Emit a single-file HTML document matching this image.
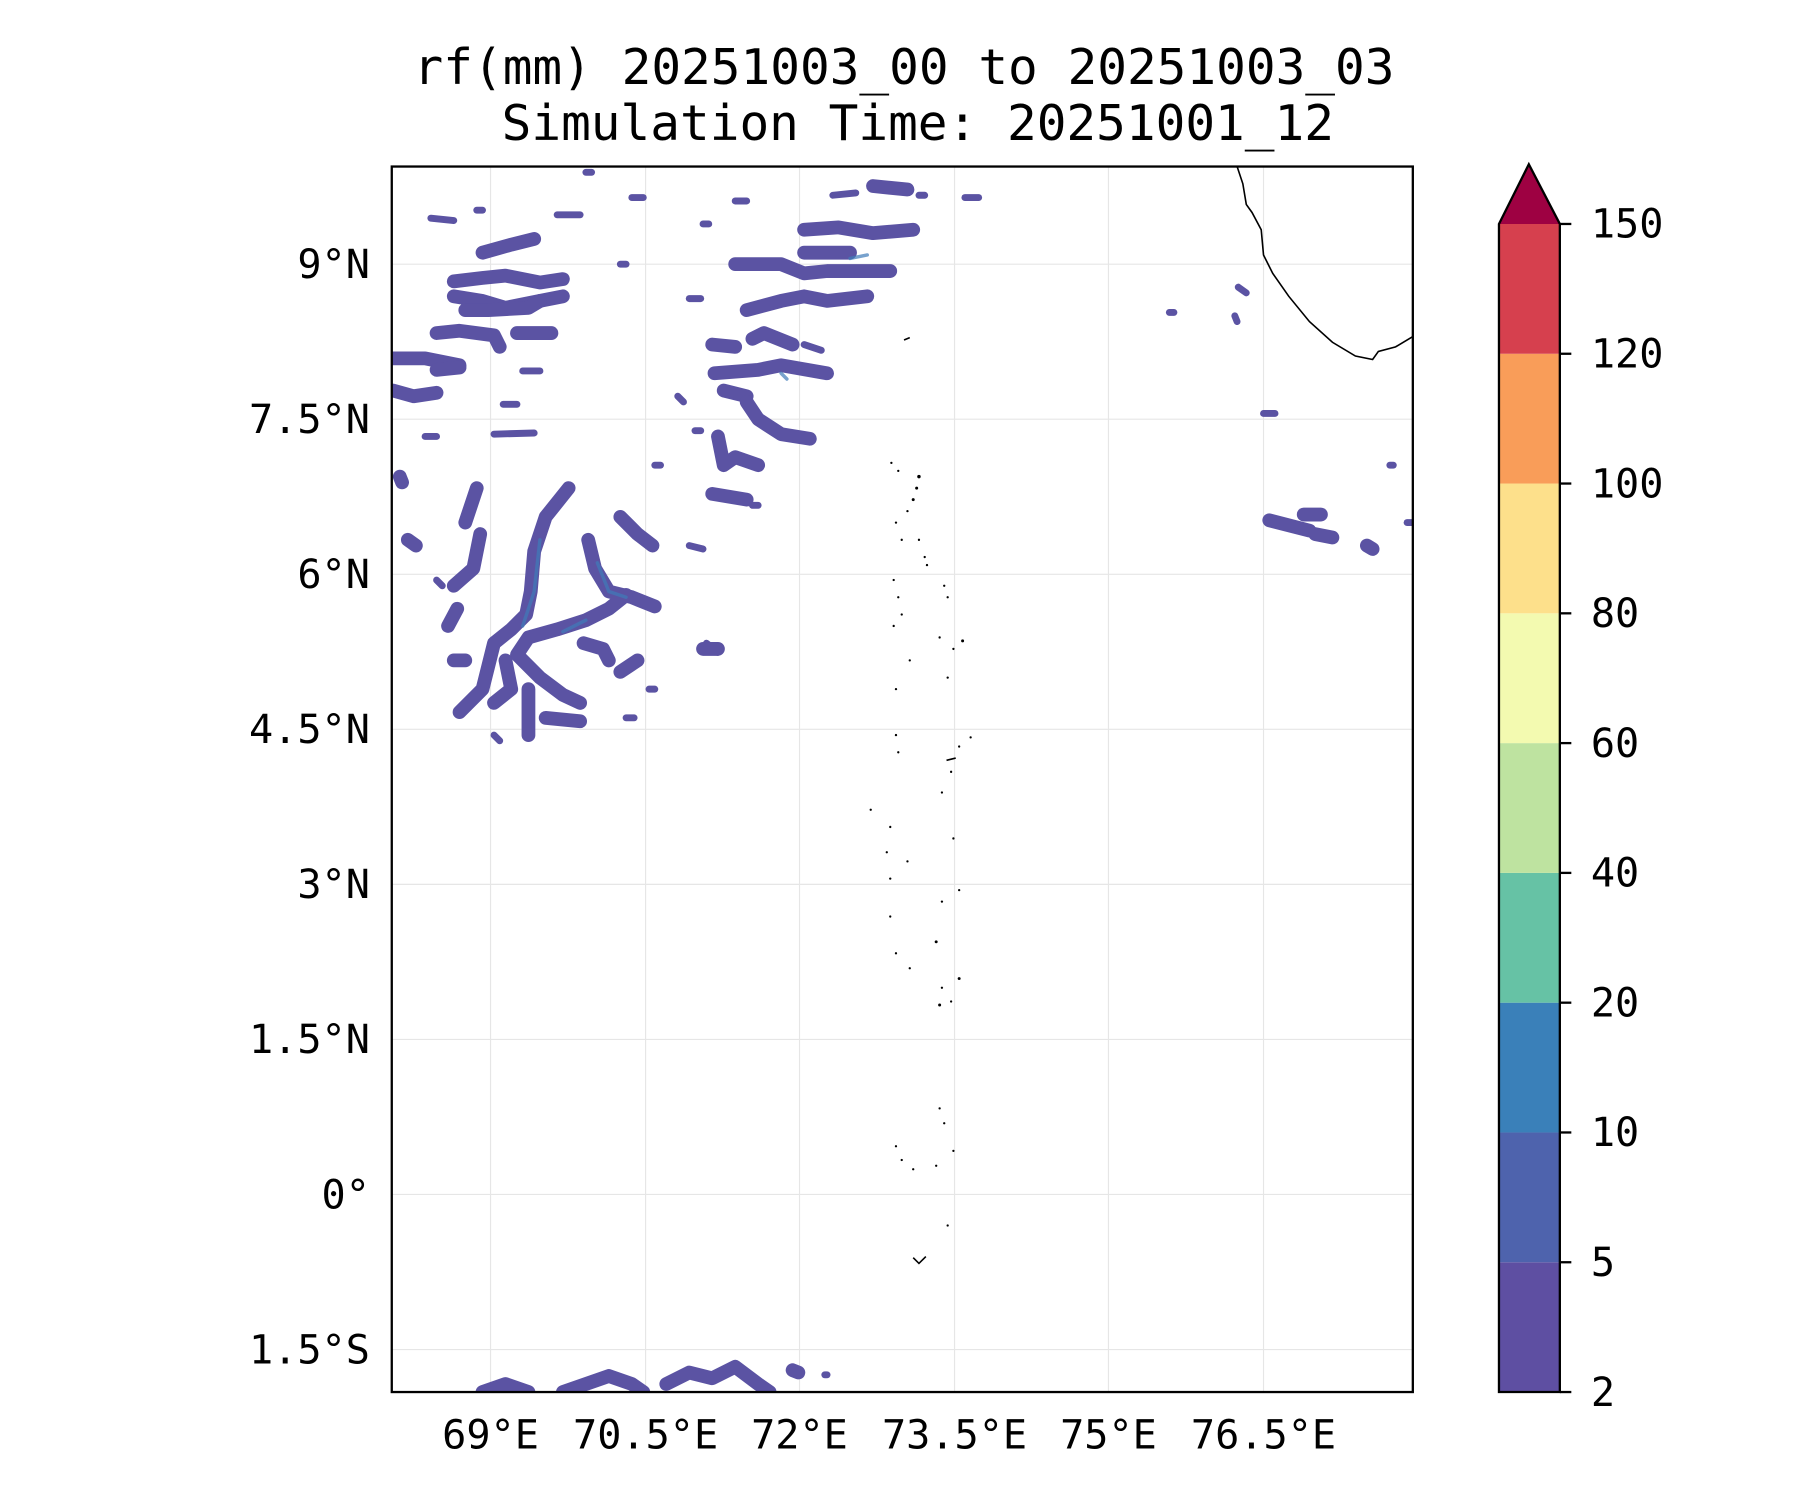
<!DOCTYPE html>
<html><head><style>
html,body{margin:0;padding:0;background:#fff;}
svg text{font-family:"DejaVu Sans Mono","Liberation Mono",monospace;fill:#000;}
</style></head><body>
<svg width="1800" height="1500" viewBox="0 0 1567 1306" xmlns="http://www.w3.org/2000/svg">
<rect width="1567" height="1306" fill="#fff"/>
<text x="787" y="73" font-size="43" text-anchor="middle">rf(mm) 20251003_00 to 20251003_03</text>
<text x="799" y="122" font-size="43" text-anchor="middle">Simulation Time: 20251001_12</text>
<g stroke="#e6e6e6" stroke-width="1">
<line x1="427" y1="145" x2="427" y2="1212"/><line x1="562" y1="145" x2="562" y2="1212"/>
<line x1="696" y1="145" x2="696" y2="1212"/><line x1="831" y1="145" x2="831" y2="1212"/>
<line x1="965" y1="145" x2="965" y2="1212"/><line x1="1100" y1="145" x2="1100" y2="1212"/>
<line x1="341" y1="230" x2="1230" y2="230"/><line x1="341" y1="365" x2="1230" y2="365"/>
<line x1="341" y1="500" x2="1230" y2="500"/><line x1="341" y1="635" x2="1230" y2="635"/>
<line x1="341" y1="770" x2="1230" y2="770"/><line x1="341" y1="905" x2="1230" y2="905"/>
<line x1="341" y1="1040" x2="1230" y2="1040"/><line x1="341" y1="1175" x2="1230" y2="1175"/>
</g>
<clipPath id="c"><rect x="341" y="145" width="889" height="1067"/></clipPath>
<g clip-path="url(#c)" fill="none" stroke="#5b53a3" stroke-linecap="round" stroke-linejoin="round">
<g stroke-width="12">
<polyline points="420,220 445,213 465,208"/>
<polyline points="395,245 420,242 440,240 470,246 490,243"/>
<polyline points="395,258 420,262 440,268 470,262 490,258"/>
<polyline points="405,270 425,270 460,268 470,262"/>
<polyline points="380,290 400,288 430,292 435,302"/>
<polyline points="342,312 370,312 400,318"/>
<polyline points="342,340 360,345 380,342"/>
<polyline points="450,290 480,290"/>
<polyline points="380,322 400,320"/>
<polyline points="640,230 680,230 700,238 720,236 775,236"/>
<polyline points="700,220 740,220"/>
<polyline points="650,270 680,262 700,258 720,262 755,258"/>
<polyline points="620,300 640,302"/>
<polyline points="622,325 660,322 680,318 720,325"/>
<polyline points="630,340 650,345"/>
<polyline points="650,350 660,365 680,378 705,382"/>
<polyline points="625,380 630,405 640,398 660,405"/>
<polyline points="700,200 730,198 760,203 795,200"/>
<polyline points="760,162 790,165"/>
<polyline points="655,295 665,290 690,300"/>
<polyline points="620,430 650,435"/>
<polyline points="415,425 405,455"/>
<polyline points="418,465 412,495 395,510"/>
<polyline points="398,530 390,545"/>
<polyline points="495,425 475,450 465,480 462,515 458,535 445,548 430,560 425,580 420,600 400,620"/>
<polyline points="512,470 518,495 530,515 550,520 570,528"/>
<polyline points="545,518 530,530 510,540 485,548 460,555 450,570 470,590 490,605 505,612"/>
<polyline points="440,575 445,600 430,612"/>
<polyline points="460,600 460,640"/>
<polyline points="475,625 505,628"/>
<polyline points="508,560 525,565 530,575"/>
<polyline points="540,450 555,465 568,475"/>
<polyline points="395,575 405,575"/>
<polyline points="612,565 625,565"/>
<polyline points="540,585 555,575"/>
<polyline points="348,415 350,420"/>
<polyline points="355,470 362,475"/>
<polyline points="1105,453 1140,462"/><polyline points="1145,465 1160,468"/>
<polyline points="1135,448 1150,448"/>
<polyline points="1190,475 1195,478"/>
<polyline points="420,1212 440,1205 460,1212"/>
<polyline points="490,1212 510,1205 530,1198 550,1205 560,1212"/>
<polyline points="580,1205 600,1195 620,1200 640,1190 660,1205 670,1212"/>
<polyline points="690,1193 695,1195"/>
</g>
<g stroke-width="6">
<polyline points="375,190 395,192"/><polyline points="485,187 505,187"/><polyline points="550,172 560,172"/>
<polyline points="510,150 515,150"/><polyline points="415,183 420,183"/><polyline points="455,323 470,323"/>
<polyline points="438,352 450,352"/><polyline points="370,380 380,380"/><polyline points="430,378 465,377"/>
<polyline points="612,195 617,195"/><polyline points="540,230 545,230"/><polyline points="600,260 610,260"/>
<polyline points="640,175 650,175"/><polyline points="725,170 745,168"/><polyline points="800,170 805,170"/>
<polyline points="840,172 852,172"/><polyline points="700,300 715,305"/><polyline points="590,345 595,350"/>
<polyline points="600,475 612,478"/><polyline points="570,405 575,405"/><polyline points="655,440 660,440"/>
<polyline points="615,560 625,568"/><polyline points="545,625 552,625"/><polyline points="565,600 570,600"/>
<polyline points="430,640 435,645"/><polyline points="380,505 385,510"/><polyline points="1078,250 1085,255"/>
<polyline points="1100,360 1110,360"/><polyline points="1018,272 1022,272"/><polyline points="1225,455 1230,455"/>
<polyline points="1075,275 1077,280"/><polyline points="1210,405 1213,405"/><polyline points="718,1197 720,1197"/>
<polyline points="605,375 610,375"/>
</g>
<g stroke="#3f7bb9" stroke-width="3" opacity="0.7">
<polyline points="470,470 465,515 455,545"/><polyline points="520,490 530,515 545,520"/><polyline points="490,550 510,540"/>
<polyline points="680,325 685,330"/><polyline points="740,225 755,222"/>
</g>
</g>
<g fill="none" stroke="#000" stroke-width="1.4">
<polyline points="1077,145 1082,160 1085,178 1090,185 1098,200 1100,222 1108,238 1122,258 1140,280 1160,298 1180,310 1195,313 1200,306 1215,302 1230,293"/>
<polyline points="787,296 792,294"/>
<polyline points="824,662 832,660"/>
<polyline points="795,1095 800,1100 806,1094"/>
</g>
<g fill="#000">
<circle cx="776" cy="403" r="1"/><circle cx="782" cy="410" r="1"/><circle cx="800" cy="415" r="1.5"/><circle cx="798" cy="425" r="1.3"/><circle cx="795" cy="435" r="1.3"/><circle cx="790" cy="445" r="1"/><circle cx="780" cy="455" r="1"/><circle cx="785" cy="470" r="1"/><circle cx="800" cy="470" r="1"/><circle cx="805" cy="485" r="1"/><circle cx="807" cy="492" r="1"/>
<circle cx="778" cy="505" r="1"/><circle cx="782" cy="520" r="1"/><circle cx="785" cy="535" r="1"/><circle cx="822" cy="510" r="1"/><circle cx="825" cy="520" r="1"/><circle cx="778" cy="545" r="1"/><circle cx="818" cy="555" r="1"/><circle cx="838" cy="558" r="1.3"/><circle cx="830" cy="565" r="1"/><circle cx="792" cy="575" r="1"/><circle cx="780" cy="600" r="1"/><circle cx="825" cy="590" r="1"/>
<circle cx="780" cy="640" r="1"/><circle cx="782" cy="655" r="1"/><circle cx="845" cy="642" r="1"/><circle cx="835" cy="650" r="1"/><circle cx="828" cy="672" r="1"/><circle cx="820" cy="690" r="1"/><circle cx="758" cy="705" r="1"/><circle cx="775" cy="720" r="1"/><circle cx="830" cy="730" r="1"/>
<circle cx="772" cy="742" r="1"/><circle cx="790" cy="750" r="1"/><circle cx="775" cy="765" r="1"/><circle cx="835" cy="775" r="1"/><circle cx="820" cy="785" r="1"/><circle cx="775" cy="798" r="1"/><circle cx="815" cy="820" r="1.3"/><circle cx="780" cy="830" r="1"/><circle cx="792" cy="843" r="1"/>
<circle cx="835" cy="852" r="1.3"/><circle cx="820" cy="860" r="1"/><circle cx="818" cy="875" r="1.3"/><circle cx="828" cy="872" r="1"/>
<circle cx="818" cy="965" r="1"/><circle cx="822" cy="978" r="1"/><circle cx="780" cy="998" r="1"/><circle cx="785" cy="1010" r="1"/><circle cx="795" cy="1018" r="1"/><circle cx="815" cy="1015" r="1"/><circle cx="830" cy="1002" r="1"/><circle cx="825" cy="1067" r="1"/>
</g>
<rect x="341" y="145" width="889" height="1067" fill="none" stroke="#000" stroke-width="2"/>
<g font-size="35" text-anchor="end">
<text x="322" y="242">9°N</text><text x="322" y="377">7.5°N</text><text x="322" y="512">6°N</text>
<text x="322" y="647">4.5°N</text><text x="322" y="782">3°N</text><text x="322" y="917">1.5°N</text>
<text x="322" y="1052">0°</text><text x="322" y="1187">1.5°S</text>
</g>
<g font-size="35" text-anchor="middle">
<text x="427" y="1261">69°E</text><text x="562" y="1261">70.5°E</text><text x="696" y="1261">72°E</text>
<text x="831" y="1261">73.5°E</text><text x="965" y="1261">75°E</text><text x="1100" y="1261">76.5°E</text>
</g>
<g stroke="none">
<rect x="1305" y="1099" width="53" height="113" fill="#5e4fa2"/>
<rect x="1305" y="986" width="53" height="113" fill="#4e63ad"/>
<rect x="1305" y="873" width="53" height="113" fill="#3a80b9"/>
<rect x="1305" y="760" width="53" height="113" fill="#66c2a5"/>
<rect x="1305" y="647" width="53" height="113" fill="#bee3a0"/>
<rect x="1305" y="534" width="53" height="113" fill="#f3fab0"/>
<rect x="1305" y="421" width="53" height="113" fill="#fde08b"/>
<rect x="1305" y="308" width="53" height="113" fill="#f99d59"/>
<rect x="1305" y="195" width="53" height="113" fill="#d6404e"/>
<polygon points="1305,195 1331,143 1358,195" fill="#9e0142"/>
</g>
<polygon points="1305,195 1331,143 1358,195 1358,1212 1305,1212" fill="none" stroke="#000" stroke-width="2"/>
<g stroke="#000" stroke-width="2">
<line x1="1358" y1="195" x2="1368" y2="195"/><line x1="1358" y1="308" x2="1368" y2="308"/><line x1="1358" y1="421" x2="1368" y2="421"/>
<line x1="1358" y1="534" x2="1368" y2="534"/><line x1="1358" y1="647" x2="1368" y2="647"/><line x1="1358" y1="760" x2="1368" y2="760"/>
<line x1="1358" y1="873" x2="1368" y2="873"/><line x1="1358" y1="986" x2="1368" y2="986"/><line x1="1358" y1="1099" x2="1368" y2="1099"/>
<line x1="1358" y1="1212" x2="1368" y2="1212"/>
</g>
<g font-size="35">
<text x="1385" y="207">150</text><text x="1385" y="320">120</text><text x="1385" y="433">100</text><text x="1385" y="546">80</text>
<text x="1385" y="659">60</text><text x="1385" y="772">40</text><text x="1385" y="885">20</text><text x="1385" y="998">10</text>
<text x="1385" y="1111">5</text><text x="1385" y="1224">2</text>
</g>
</svg>
</body></html>
